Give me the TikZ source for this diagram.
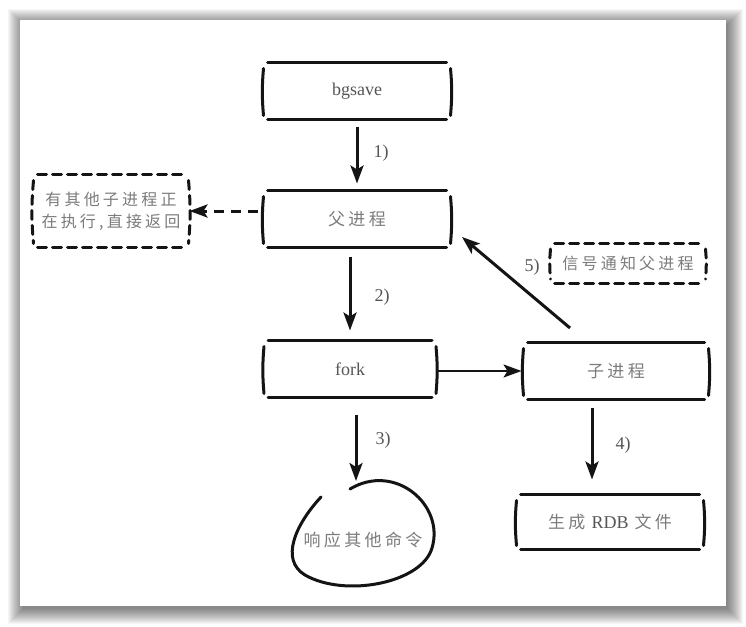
\documentclass[tikz,border=0pt]{standalone}
\usepackage{fontspec}
\setmainfont{Liberation Serif}
\newfontfamily\cjk{Noto Sans CJK SC}[LetterSpace=20]
\usetikzlibrary{arrows.meta}

\definecolor{ink}{HTML}{141414}
\definecolor{latintxt}{HTML}{555555}
\definecolor{cjktxt}{HTML}{7C7C7C}

\tikzset{
  pen/.style={draw=ink, line width=3pt, line cap=round},
  arr/.style={draw=ink, line width=3pt, -{Stealth[length=18pt, width=13pt, inset=4pt]}},
  box/.style={minimum width=#1, minimum height=57pt, inner sep=0pt, outer sep=0pt},
  zh/.style={font=\cjk\fontsize{17}{22}\selectfont, text=cjktxt},
  en/.style={font=\fontsize{18}{22}\selectfont, text=latintxt},
  lbl/.style={font=\fontsize{18}{20}\selectfont, text=latintxt}
}

% open hand-drawn frame round a node
\newcommand{\sketchbox}[2][]{%
  \draw[pen,#1] ([xshift=3pt]#2.north west) -- ([xshift=-3pt]#2.north east);
  \draw[pen,#1] ([xshift=3pt]#2.south west) -- ([xshift=-3pt]#2.south east);
  \draw[pen,#1] ([shift={(-1pt,-6pt)}]#2.north west) to[bend right=5] ([shift={(-1pt,4pt)}]#2.south west);
  \draw[pen,#1] ([shift={(1pt,-6pt)}]#2.north east) to[bend left=5] ([shift={(1pt,4pt)}]#2.south east);
}

\begin{document}
\begin{tikzpicture}[x=1pt, y=-1pt]
\useasboundingbox (0,0) rectangle (746,626);
\fill[white] (0,0) rectangle (746,626);
\foreach \i in {1,...,16}
  \fill[black, opacity=0.035] (24-\i,25-\i) rectangle (727+\i,608+\i);
\fill[white] (20,20) rectangle (726,606);

% boxes
\node[box=185pt, en] (bgsave) at (357,91) {bgsave};
\node[box=185pt, zh] (parent) at (357,219) {父进程};
\node[box=170pt, en] (fork) at (350,369) {fork};
\node[box=183pt, zh] (child) at (616,371) {子进程};
\node[box=185pt, minimum height=55pt] (rdb) at (610,522)
  {{\cjk\fontsize{17}{22}\selectfont\color{cjktxt}生成}\hspace{6pt}{\fontsize{18}{22}\selectfont\color{latintxt}RDB}\hspace{6pt}{\cjk\fontsize{17}{22}\selectfont\color{cjktxt}文件}};
\node[box=153pt, minimum height=73pt, zh, font=\cjk\fontsize{16}{22}\selectfont, align=center] (busy) at (111,211)
  {有其他子进程正\\在执行,直接返回};
\node[box=153pt, minimum height=40pt, zh, font=\cjk\fontsize{16}{22}\selectfont] (notify) at (628,263) {信号通知父进程};
\node[zh] (reply) at (363,540) {响应其他命令};

\sketchbox{bgsave}
\sketchbox{parent}
\sketchbox{fork}
\sketchbox{child}
\sketchbox{rdb}
\sketchbox[dash pattern=on 9pt off 6pt]{busy}
\sketchbox[dash pattern=on 9pt off 6pt]{notify}

% blob round the reply text
\draw[pen] (350,489) .. controls (395,462) and (445,505) .. (432,548)
  .. controls (422,583) and (345,598) .. (305,575)
  .. controls (280,560) and (295,525) .. (321,497);

% connectors
\coordinate (replytop) at (356,481);
\coordinate (sigstart) at (570,328);
\coordinate (sigend) at (462,237);

\draw[arr, shorten <=7pt, shorten >=7pt] (bgsave.south) -- (parent.north);
\draw[arr, shorten <=9pt, shorten >=10pt] (parent.south -| fork.north) -- (fork.north);
\draw[arr, shorten <=17pt] (fork.south -| replytop) -- (replytop);
\draw[arr, line width=2.2pt, shorten <=3pt, shorten >=3pt] (fork.east |- child.west) -- (child.west);
\draw[arr, shorten <=8pt, shorten >=15pt] ([xshift=-24pt]child.south) -- ([xshift=-18pt]rdb.north);
\draw[arr] (sigstart) -- (sigend);
\draw[arr, dash pattern=on 10pt off 7pt, shorten <=7pt, shorten >=2pt] (parent.west |- busy.east) -- (busy.east);

% step labels
\node[lbl] (s1) at (381,153) {1)};
\node[lbl] (s2) at (382,297) {2)};
\node[lbl] (s3) at (383,440) {3)};
\node[lbl] (s4) at (623,445) {4)};
\node[lbl] (s5) at (532,267) {5)};
\end{tikzpicture}
\end{document}
